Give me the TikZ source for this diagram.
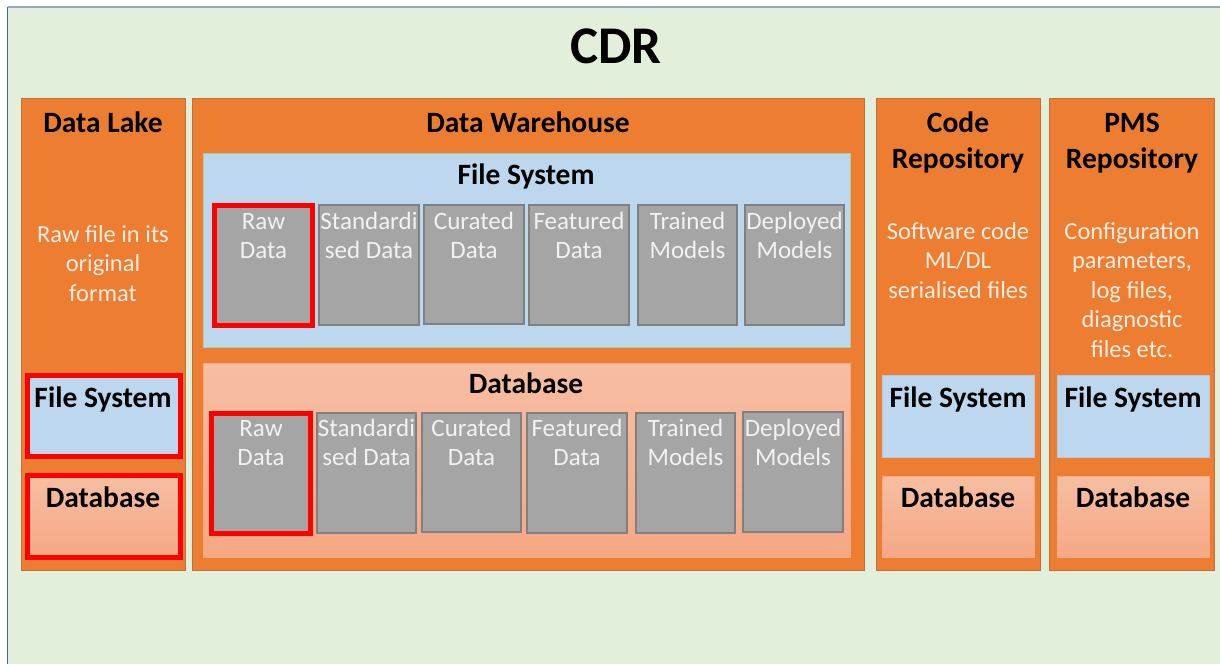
\documentclass[tikz,border=0pt]{standalone}
\usepackage{fontspec}
\setmainfont{Carlito}
\definecolor{bgc}{RGB}{226,239,218}
\definecolor{frameblue}{RGB}{68,104,170}
\definecolor{frametop}{RGB}{150,165,195}
\definecolor{orangec}{RGB}{237,125,49}
\definecolor{orangeedge}{RGB}{190,112,62}
\definecolor{fsblue}{RGB}{189,215,238}
\definecolor{fsedge}{RGB}{169,206,160}
\definecolor{dbtop}{RGB}{247,190,162}
\definecolor{dbbot}{RGB}{245,168,132}
\definecolor{dbedge}{RGB}{240,170,140}
\definecolor{cellgray}{RGB}{165,165,165}
\definecolor{celledge}{RGB}{128,128,128}
\definecolor{celltxt}{RGB}{242,242,242}
\definecolor{desctxt}{RGB}{252,236,226}
\begin{document}
\begin{tikzpicture}[x=1pt,y=-1pt,
  every node/.style={inner sep=0pt,outer sep=0pt},
  panel/.style={fill=orangec,draw=orangeedge,line width=1pt,anchor=north west},
  fsbox/.style={fill=fsblue,draw=fsedge,line width=1pt,anchor=north west},
  fsplain/.style={fill=fsblue,draw=fsblue!85!gray,line width=0.8pt,anchor=north west},
  dbbox/.style={top color=dbtop,bottom color=dbbot,draw=dbedge,line width=0.8pt,anchor=north west},
  cell/.style={fill=cellgray,draw=celledge,line width=1.3pt,anchor=north west},
  hl/.style={draw=red,line width=5pt},
  % multi-line texts are placed by the baseline of their last line
  ttl/.style={font=\bfseries\fontsize{29.5}{36}\selectfont,text=black,align=center,anchor=base},
  bigttl/.style={font=\bfseries\fontsize{53}{60}\selectfont,text=black,anchor=base},
  desc/.style={font=\fontsize{24.5}{29.5}\selectfont,text=desctxt,align=center,anchor=base},
  celltext/.style={font=\fontsize{25}{29}\selectfont,text=celltxt,align=center,anchor=base}
]
\useasboundingbox (0,0) rectangle (1220,664);
% canvas with its frame
\fill[bgc] (7.5,7) rectangle (1220,664);
\draw[frametop,line width=1.2pt] (7.5,7) -- (1220,7);
\draw[frameblue,line width=1.2pt] (7.5,7) -- (7.5,664);

\node[bigttl] (cdr) at (616,63) {CDR};

% four columns
\node[panel,minimum width=164,minimum height=472] (lake) at (21,98) {};
\node[panel,minimum width=672,minimum height=472] (dwh) at (192,98) {};
\node[panel,minimum width=164,minimum height=472] (code) at (876,98) {};
\node[panel,minimum width=165,minimum height=472] (pms) at (1049,98) {};

\node[ttl] (lakeT) at (103,132) {Data Lake};
\node[ttl] (dwhT) at (528,132) {Data Warehouse};
\node[ttl] (codeT) at (958,168) {Code\\Repository};
\node[ttl] (pmsT) at (1132,168) {PMS\\Repository};

\node[desc] (lakeD) at (103,301) {Raw file in its\\original\\format};
\node[desc] (codeD) at (958,298) {Software code\\ML/DL\\serialised files};
\node[desc] (pmsD) at (1132,357) {Configuration\\parameters,\\log files,\\diagnostic\\files etc.};

% data lake stores
\node[fsplain,hl,minimum width=153,minimum height=81] (lakeFS) at (27.5,375.5) {};
\node[dbbox,hl,minimum width=153,minimum height=82] (lakeDB) at (27.5,475.5) {};
\node[ttl] (lakeFST) at (103,407) {File System};
\node[ttl] (lakeDBT) at (103,507) {Database};

% repository stores
\node[fsplain,minimum width=152,minimum height=82] (codeFS) at (882,375) {};
\node[dbbox,minimum width=152,minimum height=81] (codeDB) at (882,476) {};
\node[ttl] (codeFST) at (958,407) {File System};
\node[ttl] (codeDBT) at (958,507) {Database};
\node[fsplain,minimum width=152,minimum height=82] (pmsFS) at (1057,375) {};
\node[dbbox,minimum width=152,minimum height=81] (pmsDB) at (1057,476) {};
\node[ttl] (pmsFST) at (1133,407) {File System};
\node[ttl] (pmsDBT) at (1133,507) {Database};

% warehouse: file system layer
\node[fsbox,minimum width=647,minimum height=194] (dwFS) at (203,153) {};
\node[ttl] (dwFST) at (526,184) {File System};
\node[cell,hl,minimum width=98,minimum height=120] (fs1) at (214.5,205.5) {};
\node[cell,minimum width=100,minimum height=120] (fs2) at (319,205) {};
\node[cell,minimum width=100,minimum height=119] (fs3) at (424,205) {};
\node[cell,minimum width=100,minimum height=120] (fs4) at (529,205) {};
\node[cell,minimum width=99,minimum height=120] (fs5) at (638,205) {};
\node[cell,minimum width=99,minimum height=120] (fs6) at (745,205) {};
\node[celltext] at ([yshift=-52.5]fs1.north) {Raw\\Data};
\node[celltext] at ([yshift=-53]fs2.north) {Standardi\\sed Data};
\node[celltext] at ([yshift=-53]fs3.north) {Curated\\Data};
\node[celltext] at ([yshift=-53]fs4.north) {Featured\\Data};
\node[celltext] at ([yshift=-53]fs5.north) {Trained\\Models};
\node[celltext] at ([yshift=-53]fs6.north) {Deployed\\Models};

% warehouse: database layer
\node[dbbox,minimum width=647,minimum height=194] (dwDB) at (203,363) {};
\node[ttl] (dwDBT) at (526,393) {Database};
\node[cell,hl,minimum width=99,minimum height=120] (db1) at (211.5,413.5) {};
\node[cell,minimum width=99,minimum height=120] (db2) at (317,413) {};
\node[cell,minimum width=99,minimum height=119] (db3) at (422,413) {};
\node[cell,minimum width=100,minimum height=120] (db4) at (527,413) {};
\node[cell,minimum width=99,minimum height=120] (db5) at (636,413) {};
\node[cell,minimum width=100,minimum height=120] (db6) at (743,412) {};
\node[celltext] at ([yshift=-51.5]db1.north) {Raw\\Data};
\node[celltext] at ([yshift=-52]db2.north) {Standardi\\sed Data};
\node[celltext] at ([yshift=-52]db3.north) {Curated\\Data};
\node[celltext] at ([yshift=-52]db4.north) {Featured\\Data};
\node[celltext] at ([yshift=-52]db5.north) {Trained\\Models};
\node[celltext] at ([yshift=-53]db6.north) {Deployed\\Models};
\end{tikzpicture}
\end{document}
